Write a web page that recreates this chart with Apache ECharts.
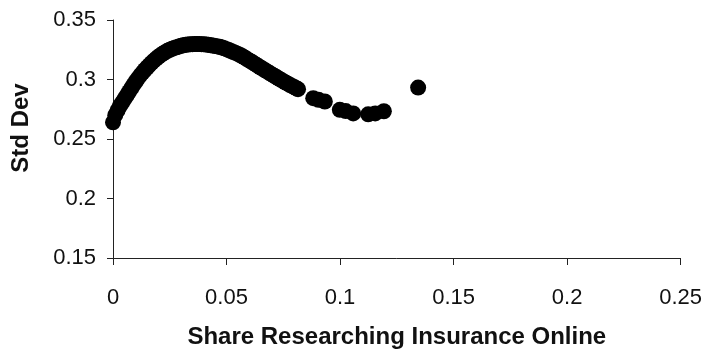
<!DOCTYPE html>
<html>
<head>
<meta charset="utf-8">
<script src="https://cdn.jsdelivr.net/npm/echarts@6/dist/echarts.min.js"></script>
<style>
html,body{margin:0;padding:0;background:#fff;}
#chart{width:705px;height:354px;}
</style>
</head>
<body>
<div id="chart"></div>
<script>
// Share researching insurance online (x) and standard deviation (y)
var shareOnline = [
  0.000, 0.001, 0.002, 0.003, 0.004, 0.005, 0.006, 0.007, 0.008, 0.009,
  0.010, 0.011, 0.012, 0.013, 0.014, 0.015, 0.016, 0.017, 0.018, 0.019,
  0.020, 0.021, 0.022, 0.023, 0.024, 0.025, 0.026, 0.027, 0.028, 0.029,
  0.030, 0.031, 0.032, 0.033, 0.034, 0.035, 0.036, 0.037, 0.038, 0.039,
  0.040, 0.041, 0.042, 0.043, 0.044, 0.045, 0.046, 0.047, 0.048, 0.049,
  0.050, 0.051, 0.052, 0.053, 0.054, 0.055, 0.056, 0.057, 0.058, 0.059,
  0.060, 0.061, 0.062, 0.063, 0.064, 0.065, 0.066, 0.067, 0.068, 0.069,
  0.070, 0.071, 0.072, 0.073, 0.074, 0.075, 0.076, 0.077, 0.078, 0.079,
  0.080, 0.081, 0.0815,
  0.0882, 0.0905, 0.0933, 0.0999, 0.1025, 0.1058, 0.1124, 0.1155, 0.1193, 0.1344
];
var stdDev = [
  0.2640, 0.2700, 0.2740, 0.2775, 0.2805, 0.2835, 0.2865, 0.2895, 0.2925, 0.2955,
  0.2983, 0.3010, 0.3035, 0.3058, 0.3080, 0.3101, 0.3121, 0.3140, 0.3158, 0.3175,
  0.3191, 0.3205, 0.3218, 0.3230, 0.3241, 0.3250, 0.3258, 0.3265, 0.3271, 0.3277,
  0.3283, 0.3287, 0.3291, 0.3294, 0.3296, 0.3297, 0.3298, 0.3298, 0.3298, 0.3297,
  0.3296, 0.3294, 0.3291, 0.3288, 0.3285, 0.3281, 0.3278, 0.3275, 0.3269, 0.3262,
  0.3255, 0.3247, 0.3239, 0.3231, 0.3223, 0.3215, 0.3206, 0.3195, 0.3184, 0.3172,
  0.3160, 0.3149, 0.3137, 0.3125, 0.3113, 0.3101, 0.3089, 0.3077, 0.3066, 0.3054,
  0.3043, 0.3031, 0.3020, 0.3008, 0.2997, 0.2986, 0.2975, 0.2965, 0.2954, 0.2944,
  0.2934, 0.2924, 0.2919,
  0.2843, 0.2830, 0.2815, 0.2745, 0.2735, 0.2715, 0.2707, 0.2715, 0.2733, 0.2932
];
var xTicks = [0, 0.05, 0.1, 0.15, 0.2, 0.25];
var yTicks = [0.15, 0.2, 0.25, 0.3, 0.35];
var xTitle = 'Share Researching Insurance Online';
var yTitle = 'Std Dev';

var points = shareOnline.map(function (x, i) { return [x, stdDev[i]]; });

var FONT = '"Liberation Sans", Arial, sans-serif';
var chart = echarts.init(document.getElementById('chart'), null, {renderer: 'canvas'});
chart.setOption({
  backgroundColor: '#ffffff',
  animation: false,
  grid: {left: 113, right: 24, top: 20, bottom: 90, containLabel: false},
  xAxis: {
    type: 'value',
    min: xTicks[0], max: xTicks[xTicks.length - 1], interval: 0.05,
    axisLine: {onZero: false, lineStyle: {color: '#222', width: 1}},
    axisTick: {show: true, inside: false, length: 7, lineStyle: {color: '#222'}},
    splitLine: {show: false},
    axisLabel: {color: '#111', fontFamily: FONT, fontSize: 22, margin: 29},
    name: xTitle, nameLocation: 'middle', nameGap: 67,
    nameTextStyle: {color: '#111', fontFamily: FONT, fontSize: 24, fontWeight: 'bold'}
  },
  yAxis: {
    type: 'value',
    min: yTicks[0], max: yTicks[yTicks.length - 1], interval: 0.05,
    axisLine: {show: true, onZero: false, lineStyle: {color: '#222', width: 1}},
    axisTick: {show: true, inside: false, length: 6, lineStyle: {color: '#222'}},
    splitLine: {show: false},
    axisLabel: {color: '#111', fontFamily: FONT, fontSize: 22, margin: 17}
  },
  graphic: [{
    type: 'text',
    x: 21, y: 128,
    rotation: Math.PI / 2,
    style: {text: yTitle, fill: '#111', font: 'bold 24px ' + FONT, textAlign: 'center', textVerticalAlign: 'middle'}
  }],
  series: [{
    type: 'scatter',
    data: points,
    symbol: 'circle',
    symbolSize: 16,
    itemStyle: {color: '#000', opacity: 1},
    clip: false
  }]
});
</script>
</body>
</html>
